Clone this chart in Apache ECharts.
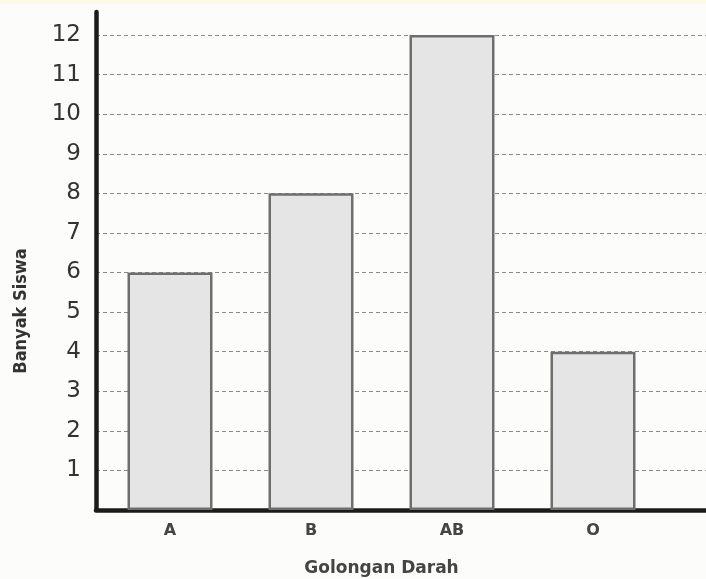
<!DOCTYPE html>
<html>
<head>
<meta charset="utf-8">
<script src="https://cdn.jsdelivr.net/npm/echarts@6/dist/echarts.min.js"></script>
<style>html,body{margin:0;padding:0;background:#fcfcfa;}#c{width:706px;height:579px;}</style>
</head>
<body>
<div id="c"></div>
<script>
const categories = ['A', 'B', 'AB', 'O'];
const banyakSiswa = [6, 8, 12, 4];
const yTicks = [1,2,3,4,5,6,7,8,9,10,11,12];
const xTitle = 'Golongan Darah';
const yTitle = 'Banyak Siswa';

const chart = echarts.init(document.getElementById('c'), null, {renderer: 'canvas'});
const font = '"DejaVu Sans", "Noto Sans", sans-serif';
// outer frame scale: 12 at y=35, 0 at y=510, frame top at y=12
const frameMax = 12 * (510 - 12) / (510 - 35);
chart.setOption({
  backgroundColor: '#fcfcfa',
  animation: false,
  graphic: [
    {type: 'rect', left: 0, top: 0, shape: {width: 706, height: 4}, style: {fill: '#fbfbe6'}},
    {type: 'text', x: 21, y: 311, rotation: Math.PI / 2,
      style: {text: yTitle, fill: '#333', font: 'bold 18px "Liberation Sans Narrow", "DejaVu Sans Condensed", sans-serif',
        align: 'center', verticalAlign: 'middle'}}
  ],
  grid: [
    {left: 99.5, width: 564, top: 35, bottom: 69, containLabel: false, outerBoundsMode: 'none'},
    {left: 96, right: 0, top: 12, bottom: 69, containLabel: false, outerBoundsMode: 'none'}
  ],
  xAxis: [
    {
      type: 'category', gridIndex: 0, data: categories,
      axisLine: {show: false}, axisTick: {show: false},
      axisLabel: {color: '#444', fontSize: 16, fontWeight: 'bold', fontFamily: font, margin: 13},
      name: xTitle, nameLocation: 'middle', nameGap: 50,
      nameTextStyle: {color: '#444', fontSize: 17, fontWeight: 'bold', fontFamily: font}
    },
    {
      type: 'value', gridIndex: 1, min: 0, max: 1,
      axisLine: {show: true, lineStyle: {color: '#1c1c1c', width: 4.5}},
      axisTick: {show: false}, axisLabel: {show: false}, splitLine: {show: false}
    }
  ],
  yAxis: [
    {
      type: 'value', gridIndex: 0, min: 0, max: 12, interval: 1,
      axisLine: {show: false}, axisTick: {show: false},
      axisLabel: {show: false}, splitLine: {show: false}
    },
    {
      type: 'value', gridIndex: 1, min: 0, max: frameMax, interval: 1,
      axisLine: {show: true, lineStyle: {color: '#1c1c1c', width: 4.5}},
      axisTick: {show: false},
      axisLabel: {color: '#333', fontSize: 23, fontFamily: font, margin: 15,
        showMaxLabel: false, showMinLabel: false,
        formatter: v => (yTicks.indexOf(v) >= 0 ? String(v) : '')},
      splitLine: {show: true, showMinLine: false, showMaxLine: false,
        lineStyle: {color: '#8a8a8a', type: [4, 3], width: 1}}
    }
  ],
  series: [
    {
      type: 'bar', xAxisIndex: 0, yAxisIndex: 0, data: banyakSiswa,
      barWidth: 85, z: 3,
      itemStyle: {color: '#e5e5e5', borderColor: '#6e6e6e', borderWidth: 2.5}
    }
  ]
});
</script>
</body>
</html>
